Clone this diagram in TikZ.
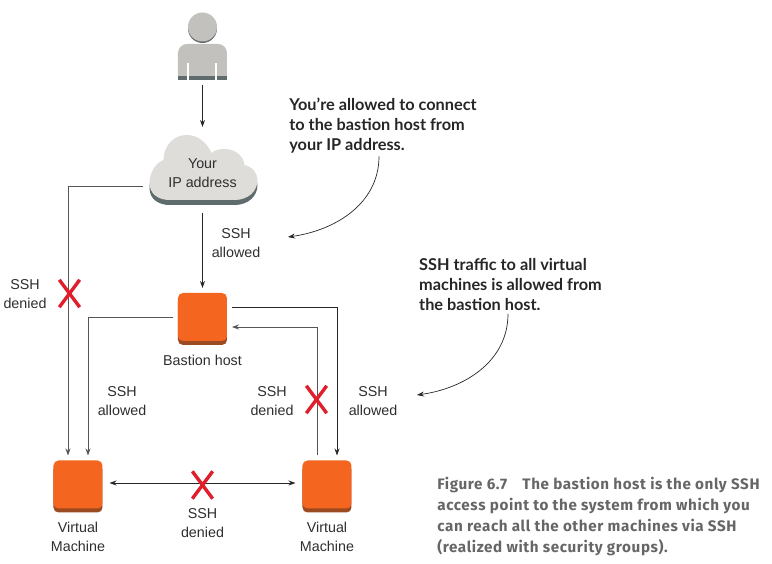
\documentclass[tikz,border=0pt]{standalone}
\usepackage{fontspec}
\setmainfont{Liberation Sans}
\newfontfamily\notefont{Lato}
\newfontfamily\capfont[LetterSpace=4]{Fira Sans}
\usepackage{xcolor}
\usetikzlibrary{positioning,arrows.meta,shapes.misc,shadows,backgrounds}
\definecolor{awsorange}{HTML}{F46520}
\definecolor{awsshade}{HTML}{9C4A22}
\definecolor{cloudgrey}{HTML}{DEDDD9}
\definecolor{persongrey}{HTML}{C2C1BD}
\definecolor{slategrey}{HTML}{5F6B6D}
\definecolor{denyred}{HTML}{E01F2D}
\definecolor{linegrey}{HTML}{555555}
\definecolor{labelink}{HTML}{2E2E2E}
\definecolor{capgrey}{HTML}{666666}
\tikzset{
  sq/.style    = {rounded corners=5pt, fill=awsorange, minimum width=49pt, minimum height=48pt,
                  inner sep=0pt, outer sep=5pt,
                  general shadow={fill=awsshade, shadow xshift=0pt, shadow yshift=-4pt}},
  lab/.style   = {font=\fontsize{14.3}{19}\selectfont, text=labelink, align=center, inner sep=0pt},
  deny/.style  = {cross out, draw=denyred, line width=3.4pt, minimum width=17pt,
                  minimum height=24pt, inner sep=0pt},
  note/.style  = {font=\notefont\bfseries\fontsize{16.3}{20}\selectfont, text=black!85,
                  align=left, inner sep=0pt},
  capt/.style  = {font=\capfont\bfseries\fontsize{15.2}{21}\selectfont, text=capgrey,
                  align=left, inner sep=0pt},
  arr/.style   = {-{Stealth[length=7pt,width=5pt]}, line width=0.9pt, draw=black!85},
  arrg/.style  = {arr, draw=linegrey},
  arrn/.style  = {arr, line width=0.7pt},
}
\begin{document}
\begin{tikzpicture}[on grid]
  \useasboundingbox (-202.5pt,-247pt) rectangle (569.5pt,317pt);

  \node[sq] (bastion) at (0,0) {};
  \node[lab, below=43pt of bastion] (bastionlab) {Bastion host};
  \node[sq, below left=167.5pt and 124.5pt of bastion] (vml) {};
  \node[sq, right=249pt of vml] (vmr) {};
  \node[lab, below=52pt of vml] (vmllab) {Virtual\\Machine};
  \node[lab, below=52pt of vmr] (vmrlab) {Virtual\\Machine};

  \node[lab, above=147pt of bastion, minimum width=108pt, minimum height=70pt,
        outer sep=8pt] (cloud) {\rule{0pt}{16pt}Your\\IP address};
  \node[above=124pt of cloud, minimum width=49pt, minimum height=68pt, inner sep=0pt,
        outer sep=5pt] (person) {};

  % --- icons behind the two top nodes ---
  \begin{scope}[on background layer, shift={(cloud.center)}, x=1pt, y=1pt]
    \fill[cloudgrey, preaction={fill=slategrey, transform canvas={yshift=-5pt}}]
      (-53,-13) .. controls (-53,-24) and (-44,-30) .. (-33,-30) -- (32,-30)
      .. controls (46,-30) and (55,-21) .. (55,-10)
      .. controls (55,-3) and (50,3) .. (42,5)
      .. controls (41,14) and (33,21) .. (22,21)
      .. controls (17,21) and (12,20) .. (9,17)
      .. controls (4,28) and (-5,35) .. (-16,35)
      .. controls (-29,35) and (-39,24) .. (-39,10)
      .. controls (-47,7) and (-53,-3) .. (-53,-13) -- cycle;
  \end{scope}
  \begin{scope}[shift={(person.center)}, x=1pt, y=1pt]
    \fill[slategrey] (0,17.5) circle (14.5pt);
    \fill[persongrey] (0,19) circle (14.5pt);
    \fill[slategrey] (-24.5,-34) rectangle (24.5,-30);
    \fill[persongrey] (-24.5,-30) {[rounded corners=9pt] -- (-24.5,2) -- (24.5,2)}
      -- (24.5,-30) -- cycle;
    \fill[white] (-15,-34) rectangle (-13.5,-17);
    \fill[white] (13,-34) rectangle (14.5,-17);
  \end{scope}

  \node[lab, above right=74pt and 33.5pt of bastion] (sshtop) {SSH\\allowed};
  \node[lab, above left=23pt and 177.5pt of bastion] (sshfar) {SSH\\denied};
  \node[lab, below left=84.5pt and 80.5pt of bastion] (sshleft) {SSH\\allowed};
  \node[lab, below right=84.5pt and 69.5pt of bastion] (sshback) {SSH\\denied};
  \node[lab, below right=84.5pt and 170.5pt of bastion] (sshright) {SSH\\allowed};
  \node[lab, below=206pt of bastion] (sshbase) {SSH\\denied};

  \draw[arr] (person) -- (cloud);
  \draw[arr] (cloud) -- (bastion);
  \draw[arrg] ([xshift=3pt,yshift=-16pt]cloud.west) -| ([xshift=-10pt]vml.north);
  \draw[arrg] (bastion.west) -| ([xshift=10pt]vml.north);
  \draw[arr] ([yshift=10pt]bastion.east) -| ([xshift=10pt]vmr.north);
  \draw[arrg] ([xshift=-10pt]vmr.north) |- ([yshift=-10pt]bastion.east);
  \draw[arr, {Stealth[length=7pt,width=5pt]}-{Stealth[length=7pt,width=5pt]},
        shorten <=2pt, shorten >=2pt] ([yshift=1.5pt]vml.east) -- ([yshift=1.5pt]vmr.west);

  \node[deny, above left=23.5pt and 133pt of bastion] (xfar) {};
  \node[deny, below right=82.5pt and 114pt of bastion] (xback) {};
  \node[deny, below=168pt of bastion] (xbase) {};

  % --- callouts on the right ---
  \node[note, above right=191.5pt and 180.5pt of bastion] (noteip)
        {You’re allowed to connect\\to the bastion host from\\your IP address.};
  \node[note, above right=32.5pt and 308pt of bastion] (notessh)
        {SSH traffic to all virtual\\machines is allowed from\\the bastion host.};
  \coordinate[below left=111.5pt and 95pt of noteip] (ipend);
  \coordinate[below left=110.5pt and 93.5pt of notessh] (sshend);
  \draw[arrn] ([xshift=-4pt,yshift=-3pt]noteip.south) to[out=-90,in=8] (ipend);
  \draw[arrn] ([xshift=-2.5pt,yshift=-3pt]notessh.south) to[out=-90,in=8] (sshend);

  \node[capt, below right=199.5pt and 396pt of bastion] (caption)
        {Figure 6.7\quad The bastion host is the only SSH\\access point to the system from which you\\can reach all the other machines via SSH\\(realized with security groups).};
\end{tikzpicture}
\end{document}
